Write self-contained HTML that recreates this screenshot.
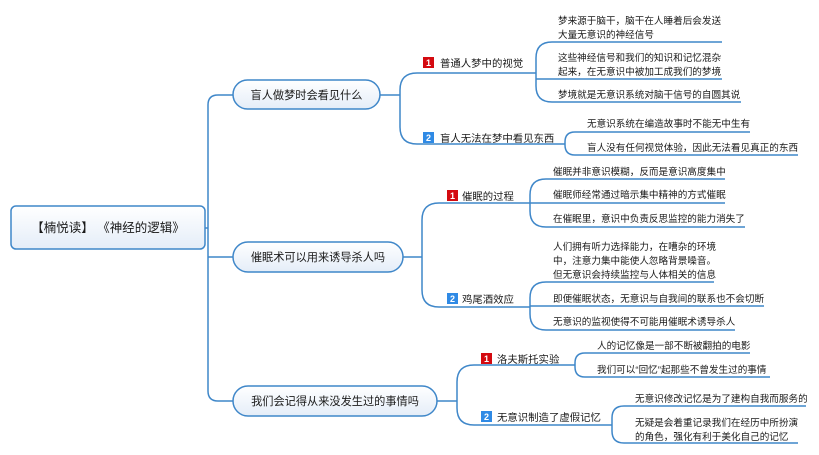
<!DOCTYPE html>
<html><head><meta charset="utf-8"><style>
html,body{margin:0;padding:0;background:#fff;}
svg{display:block;}
text{font-family:"Liberation Sans","Noto Sans CJK SC",sans-serif;fill:#1a1a1a;}
.l{font-size:9.6px;}
.s{font-size:10.4px;}
.m{font-size:11.2px;}
.b{font-size:9px;font-weight:bold;fill:#fff;}
</style></head><body>
<svg width="819" height="455" viewBox="0 0 819 455" xmlns="http://www.w3.org/2000/svg">
<defs><linearGradient id="g" x1="0" y1="0" x2="0" y2="1"><stop offset="0" stop-color="#ffffff"/><stop offset="1" stop-color="#e4edf8"/></linearGradient></defs>
<g fill="none" stroke="#3f87c9" stroke-width="1.5">
<path d="M205,228 H208"/>
<path d="M233,95 H218 Q208,95 208,105 V391 Q208,401 218,401 H233"/>
<path d="M208,257 H233"/>
<path d="M380,95 H400"/>
<path d="M417,73 Q400,73 400,90 V127 Q400,144 417,144 H565"/>
<path d="M417,73 H536"/>
<path d="M536,73 V58 Q536,42 552,42 H722"/>
<path d="M536,79 H722"/>
<path d="M536,73 V86 Q536,102 552,102 H741"/>
<path d="M565,144 V142 Q565,132 575,132 H750"/>
<path d="M565,144 V145 Q565,155 575,155 H798"/>
<path d="M403,257 H422"/>
<path d="M439,203 Q422,203 422,220 V290 Q422,307 439,307 H530"/>
<path d="M439,203 H530"/>
<path d="M530,203 V195 Q530,179 546,179 H725"/>
<path d="M530,203 H725"/>
<path d="M530,203 V211 Q530,227 546,227 H745"/>
<path d="M530,307 V298 Q530,282 546,282 H714"/>
<path d="M530,306 H764"/>
<path d="M530,307 V314 Q530,330 546,330 H735"/>
<path d="M437,401 H457"/>
<path d="M474,365 Q457,365 457,382 V408 Q457,425 474,425 H612"/>
<path d="M474,365 H575"/>
<path d="M575,365 V363 Q575,353 585,353 H750"/>
<path d="M575,365 V367 Q575,377 585,377 H770"/>
<path d="M612,425 V418 Q612,406 624,406 H806"/>
<path d="M612,425 V431 Q612,443 624,443 H798"/>
</g>
<g fill="url(#g)" stroke="#3f87c9" stroke-width="1.5">
<rect x="11" y="206" width="194" height="43" rx="5"/>
<rect x="233" y="80" width="147" height="29" rx="14.5"/>
<rect x="233" y="242" width="170" height="30" rx="15"/>
<rect x="233" y="386" width="204" height="30" rx="15"/>
</g>
<text x="108" y="232" text-anchor="middle" style="font-size:12.5px">【楠悦读】 《神经的逻辑》</text>
<text x="306.5" y="99" text-anchor="middle" class="m">盲人做梦时会看见什么</text>
<text x="318" y="261" text-anchor="middle" class="m">催眠术可以用来诱导杀人吗</text>
<text x="335" y="405" text-anchor="middle" class="m">我们会记得从来没发生过的事情吗</text>
<g>
<rect x="423" y="57" width="11" height="11" fill="#d40a10"/><text x="428.5" y="66" text-anchor="middle" class="b">1</text>
<rect x="423" y="132" width="11" height="11" fill="#2f8ae5"/><text x="428.5" y="141" text-anchor="middle" class="b">2</text>
<rect x="447" y="190" width="11" height="11" fill="#d40a10"/><text x="452.5" y="199" text-anchor="middle" class="b">1</text>
<rect x="447" y="293" width="11" height="11" fill="#2f8ae5"/><text x="452.5" y="302" text-anchor="middle" class="b">2</text>
<rect x="481" y="353" width="11" height="11" fill="#d40a10"/><text x="486.5" y="362" text-anchor="middle" class="b">1</text>
<rect x="481" y="411" width="11" height="11" fill="#2f8ae5"/><text x="486.5" y="420" text-anchor="middle" class="b">2</text>
</g>
<text x="440" y="67" class="s">普通人梦中的视觉</text>
<text x="440" y="142" class="s">盲人无法在梦中看见东西</text>
<text x="462" y="200" class="s">催眠的过程</text>
<text x="462" y="303" class="s">鸡尾酒效应</text>
<text x="497" y="363" class="s">洛夫斯托实验</text>
<text x="497" y="421" class="s">无意识制造了虚假记忆</text>
<g class="l">
<text x="558" y="24" class="l">梦来源于脑干，脑干在人睡着后会发送</text>
<text x="558" y="38" class="l">大量无意识的神经信号</text>
<text x="558" y="61" class="l">这些神经信号和我们的知识和记忆混杂</text>
<text x="558" y="75" class="l">起来，在无意识中被加工成我们的梦境</text>
<text x="558" y="98" class="l">梦境就是无意识系统对脑干信号的自圆其说</text>
<text x="587" y="127" class="l">无意识系统在编造故事时不能无中生有</text>
<text x="587" y="151" class="l">盲人没有任何视觉体验，因此无法看见真正的东西</text>
<text x="553" y="175" class="l">催眠并非意识模糊，反而是意识高度集中</text>
<text x="553" y="198" class="l">催眠师经常通过暗示集中精神的方式催眠</text>
<text x="553" y="222" class="l">在催眠里，意识中负责反思监控的能力消失了</text>
<text x="553" y="250" class="l">人们拥有听力选择能力，在嘈杂的环境</text>
<text x="553" y="264" class="l">中，注意力集中能使人忽略背景噪音。</text>
<text x="553" y="278" class="l">但无意识会持续监控与人体相关的信息</text>
<text x="553" y="302" class="l">即便催眠状态，无意识与自我间的联系也不会切断</text>
<text x="553" y="325" class="l">无意识的监视使得不可能用催眠术诱导杀人</text>
<text x="597" y="349" class="l">人的记忆像是一部不断被翻拍的电影</text>
<text x="597" y="373" class="l">我们可以“回忆”起那些不曾发生过的事情</text>
<text x="635" y="402" class="l">无意识修改记忆是为了建构自我而服务的</text>
<text x="635" y="426" class="l">无疑是会着重记录我们在经历中所扮演</text>
<text x="635" y="440" class="l">的角色，强化有利于美化自己的记忆</text>
</g>
</svg>
</body></html>
